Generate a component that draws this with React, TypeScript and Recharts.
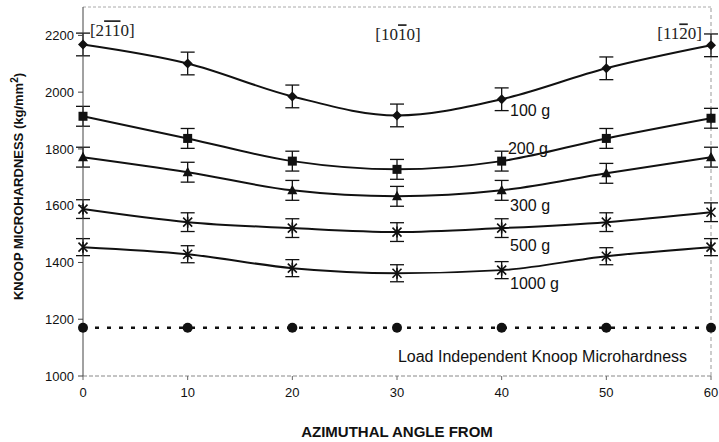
import {
  LineChart,
  Line,
  XAxis,
  YAxis,
  ErrorBar,
  ReferenceLine,
  ReferenceDot,
} from 'recharts';

const angles = [0, 10, 20, 30, 40, 50, 60];
const load100 = [2168, 2101, 1985, 1918, 1975, 2084, 2165];
const load200 = [1915, 1837, 1757, 1728, 1757, 1837, 1908];
const load300 = [1771, 1718, 1654, 1633, 1654, 1714, 1771];
const load500 = [1588, 1542, 1521, 1507, 1521, 1542, 1577];
const load1000 = [1454, 1429, 1380, 1362, 1373, 1422, 1454];
const loadIndependent = [1170, 1170, 1170, 1170, 1170, 1170, 1170];
const err100 = [40, 40, 40, 40, 40, 40, 40];
const err200 = [35, 35, 35, 35, 35, 35, 35];
const err300 = [35, 35, 35, 35, 35, 35, 35];
const err500 = [33, 33, 33, 33, 33, 33, 33];
const err1000 = [30, 30, 30, 30, 30, 30, 30];
const xTicks = [0, 10, 20, 30, 40, 50, 60];
const yTicks = [1000, 1200, 1400, 1600, 1800, 2000, 2200];

// where the load labels sit (data coords)
const seriesLabels = [
  { text: '100 g', x: 40.8, y: 1936 },
  { text: '200 g', x: 40.6, y: 1802 },
  { text: '300 g', x: 40.8, y: 1602 },
  { text: '500 g', x: 40.8, y: 1461 },
  { text: '1000 g', x: 40.8, y: 1327 },
];

const data = angles.map((a, i) => ({
  angle: a,
  l100: load100[i],
  l200: load200[i],
  l300: load300[i],
  l500: load500[i],
  l1000: load1000[i],
  li: loadIndependent[i],
  e100: err100[i],
  e200: err200[i],
  e300: err300[i],
  e500: err500[i],
  e1000: err1000[i],
}));

const SANS = '"Liberation Sans", Arial, sans-serif';
const SERIF = '"Liberation Serif", "Times New Roman", serif';
const INK = '#111';

const Diamond = (props: any) => {
  const { cx, cy, index } = props;
  const s = 5;
  return (
    <path key={`dm-${index}`} d={`M${cx},${cy - s}L${cx + s},${cy}L${cx},${cy + s}L${cx - s},${cy}Z`} fill={INK} />
  );
};

const Square = (props: any) => {
  const { cx, cy, index } = props;
  return <rect key={`sq-${index}`} x={cx - 4.5} y={cy - 4.5} width={9} height={9} fill={INK} />;
};

const Triangle = (props: any) => {
  const { cx, cy, index } = props;
  return (
    <path key={`tr-${index}`} d={`M${cx},${cy - 5.5}L${cx + 5},${cy + 4}L${cx - 5},${cy + 4}Z`} fill={INK} />
  );
};

const Star = (props: any) => {
  const { cx, cy, index } = props;
  const s = 4.5;
  return (
    <path
      key={`st-${index}`}
      d={`M${cx - s},${cy - s}L${cx + s},${cy + s}M${cx - s},${cy + s}L${cx + s},${cy - s}M${cx},${cy - s - 1}L${cx},${cy + s + 1}`}
      stroke={INK}
      strokeWidth={1.6}
      fill="none"
    />
  );
};

const Dot = (props: any) => {
  const { cx, cy, index } = props;
  return <circle key={`ci-${index}`} cx={cx} cy={cy} r={5} fill={INK} />;
};

const YTitle = (props: any) => {
  const vb = props.viewBox || { y: 7, height: 369 };
  const cy = vb.y + vb.height / 2 - 5;
  return (
    <text
      transform={`translate(23, ${cy}) rotate(-90)`}
      textAnchor="middle"
      fontFamily={SANS}
      fontWeight="bold"
      fontSize={13}
      fill={INK}
    >
      KNOOP MICROHARDNESS (kg/mm
      <tspan dy={-5} fontSize={10}>2</tspan>
      <tspan dy={5}>)</tspan>
    </text>
  );
};

const Bracket = ({ viewBox, parts }: any) => {
  const cx = viewBox.x + (viewBox.width || 0) / 2;
  const cy = viewBox.y + (viewBox.height || 0) / 2;
  return (
    <text x={cx} y={cy + 6} textAnchor="middle" fontFamily={SERIF} fontSize={17} fill="#222">
      [
      {parts.map((p: string, i: number) =>
        p.startsWith('-') ? (
          <tspan key={i} style={{ textDecoration: 'overline' }}>{p.slice(1)}</tspan>
        ) : (
          <tspan key={i}>{p}</tspan>
        )
      )}
      ]
    </text>
  );
};

const App = () => {
  return (
    <div style={{ position: 'absolute', left: 0, top: 0, background: '#fff' }}>
      <LineChart width={719} height={442} data={data} margin={{ top: 7, right: 8, left: 0, bottom: 0 }}>
        <XAxis
          dataKey="angle"
          type="number"
          domain={[0, 60]}
          ticks={xTicks}
          height={66}
          stroke="#888"
          strokeDasharray="4 2"
          tickLine={{ stroke: '#666', strokeDasharray: '0' }}
          tickSize={4}
          tick={{ fill: INK, fontSize: 13, fontFamily: SANS }}
          tickMargin={8}
          label={{
            value: 'AZIMUTHAL ANGLE FROM',
            position: 'insideBottom',
            offset: 5,
            fill: INK,
            fontSize: 15,
            fontWeight: 'bold',
            fontFamily: SANS,
          }}
        />
        <YAxis
          type="number"
          domain={[1000, 2300]}
          ticks={yTicks}
          width={83}
          stroke="#444"
          tickLine={{ stroke: '#444' }}
          tickSize={5}
          tickMargin={4}
          tick={{ fill: INK, fontSize: 13, fontFamily: SANS }}
          label={<YTitle />}
        />
        <ReferenceLine y={2300} stroke="#aaa" strokeDasharray="3 2" />
        <ReferenceLine x={60} stroke="#999" strokeDasharray="4 3" />

        <Line type="monotone" dataKey="l100" stroke={INK} strokeWidth={2} dot={Diamond} isAnimationActive={false}>
          <ErrorBar dataKey="e100" direction="y" width={7} stroke={INK} strokeWidth={1.3} />
        </Line>
        <Line type="monotone" dataKey="l200" stroke={INK} strokeWidth={2} dot={Square} isAnimationActive={false}>
          <ErrorBar dataKey="e200" direction="y" width={7} stroke={INK} strokeWidth={1.3} />
        </Line>
        <Line type="monotone" dataKey="l300" stroke={INK} strokeWidth={2} dot={Triangle} isAnimationActive={false}>
          <ErrorBar dataKey="e300" direction="y" width={7} stroke={INK} strokeWidth={1.3} />
        </Line>
        <Line type="monotone" dataKey="l500" stroke={INK} strokeWidth={2} dot={Star} isAnimationActive={false}>
          <ErrorBar dataKey="e500" direction="y" width={7} stroke={INK} strokeWidth={1.3} />
        </Line>
        <Line type="monotone" dataKey="l1000" stroke={INK} strokeWidth={2} dot={Star} isAnimationActive={false}>
          <ErrorBar dataKey="e1000" direction="y" width={7} stroke={INK} strokeWidth={1.3} />
        </Line>
        <Line
          type="linear"
          dataKey="li"
          stroke={INK}
          strokeWidth={2.5}
          strokeDasharray="4 8"
          dot={Dot}
          isAnimationActive={false}
        />

        {seriesLabels.map((s) => (
          <ReferenceDot
            key={s.text}
            x={s.x}
            y={s.y}
            r={0}
            fill="none"
            stroke="none"
            label={{ value: s.text, position: 'right', offset: 0, fill: INK, fontSize: 16, fontFamily: SANS }}
          />
        ))}
        <ReferenceDot
          x={43.9}
          y={1070}
          r={0}
          fill="none"
          stroke="none"
          label={{
            value: 'Load Independent Knoop Microhardness',
            position: 'center',
            fill: INK,
            fontSize: 16,
            fontFamily: SANS,
          }}
        />
        <ReferenceDot x={2.8} y={2218} r={0} fill="none" stroke="none" label={<Bracket parts={['2', '-1', '-1', '0']} />} />
        <ReferenceDot x={30.1} y={2204} r={0} fill="none" stroke="none" label={<Bracket parts={['1', '0', '-1', '0']} />} />
        <ReferenceDot x={57} y={2207} r={0} fill="none" stroke="none" label={<Bracket parts={['1', '1', '-2', '0']} />} />
      </LineChart>
    </div>
  );
};

export default App;
